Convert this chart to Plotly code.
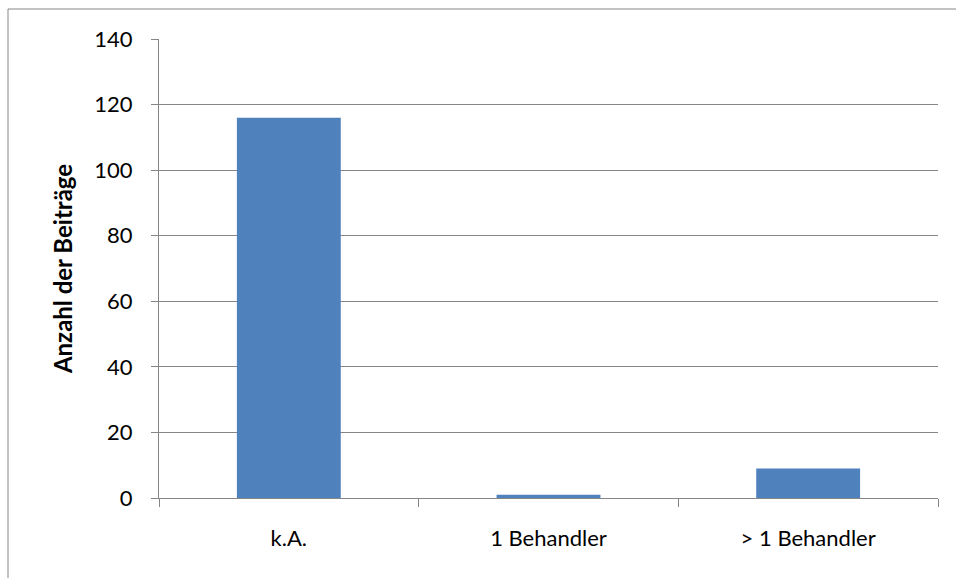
import plotly.graph_objects as go

W, H = 956, 578
L, R, T, B = 159, 18, 39, 80

categories = ["k.A.", "1 Behandler", "> 1 Behandler"]
values = [116, 1, 9]
y_ticks = [0, 20, 40, 60, 80, 100, 120, 140]

AXIS_GRAY = "#868686"
FONT = "Lato, Open Sans, sans-serif"


def main():
    fig = go.Figure()
    fig.add_trace(go.Bar(
        x=categories,
        y=values,
        marker=dict(color="#4f81bd", line=dict(width=0)),
        width=0.4,
    ))

    fig.update_layout(
        width=W,
        height=H,
        margin=dict(l=L, r=R, t=T, b=B),
        paper_bgcolor="white",
        plot_bgcolor="white",
        showlegend=False,
        font=dict(family=FONT, size=22, color="black"),
    )

    fig.update_xaxes(
        showline=True, linecolor=AXIS_GRAY, linewidth=1,
        ticks="outside", ticklen=8, tickcolor=AXIS_GRAY,
        tickson="boundaries", showgrid=False,
        tickfont=dict(size=22),
        ticklabelstandoff=21,
    )
    fig.update_yaxes(
        range=[0, 140], tickvals=y_ticks,
        showline=True, linecolor=AXIS_GRAY, linewidth=1,
        ticks="outside", ticklen=7, tickcolor=AXIS_GRAY,
        showgrid=True, gridcolor=AXIS_GRAY, gridwidth=1,
        zeroline=False,
        tickfont=dict(size=22),
        ticklabelstandoff=14,
        title=dict(text="<b>Anzahl der Beiträge</b>", font=dict(size=24), standoff=14),
    )

    # outer chart border (right/bottom edges fall outside the picture)
    pw, ph = W - L - R, H - T - B
    fig.add_shape(
        type="rect", xref="paper", yref="paper",
        x0=(8 - L) / pw, x1=(970 - L) / pw,
        y0=(H - B - 590) / ph, y1=(H - B - 9) / ph,
        line=dict(color=AXIS_GRAY, width=1), fillcolor="rgba(0,0,0,0)",
        layer="below",
    )

    fig.write_html("out.html", config={"displayModeBar": False},
                   post_script="document.body.style.margin='0';")


if __name__ == '__main__':
    main()
